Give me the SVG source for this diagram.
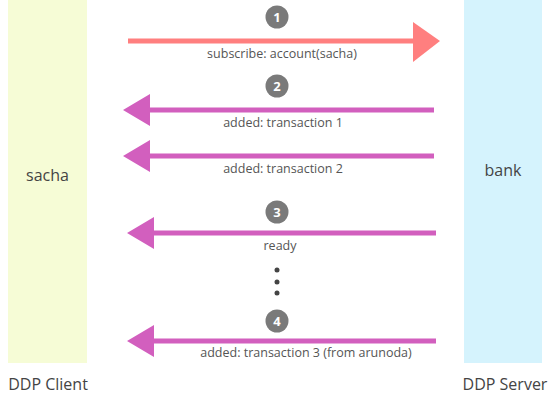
<svg xmlns="http://www.w3.org/2000/svg" width="550" height="401" viewBox="0 0 550 401">
<style>
.lbl{font-family:"Open Sans","Noto Sans",sans-serif;font-size:12.5px;fill:#555;text-anchor:middle}
.big{font-family:"Open Sans","Noto Sans",sans-serif;font-size:16px;fill:#444;text-anchor:middle}
.num{font-family:"Open Sans","Noto Sans",sans-serif;font-size:13px;font-weight:bold;fill:#fff;text-anchor:middle}
.badge{fill:#7a7a7a}
.red{stroke:#ff7f7f;stroke-width:5;fill:none}
.redh{fill:#ff7f7f}
.pur{stroke:#d25fbe;stroke-width:5;fill:none}
.purh{fill:#d25fbe}
</style>
<rect width="550" height="401" fill="#fff"/>
<g id="client">
<rect x="8" y="0" width="79" height="363" fill="#f6fcd6"/>
<text class="big" x="47.5" y="181">sacha</text>
<text class="big" x="48" y="390">DDP Client</text>
</g>
<g id="server">
<rect x="464" y="0" width="78" height="363" fill="#d5f3fd"/>
<text class="big" x="503" y="176">bank</text>
<text class="big" x="505" y="390">DDP Server</text>
</g>
<g id="connectors">
<line class="red" x1="128" y1="41" x2="415" y2="41"/>
<polygon class="redh" points="413,22 440,41 413,62"/>
<line class="pur" x1="148" y1="110" x2="434" y2="110"/>
<polygon class="purh" points="150,94 123,110 150,126"/>
<line class="pur" x1="148" y1="156" x2="434" y2="156"/>
<polygon class="purh" points="150,140 123,156 150,172"/>
<line class="pur" x1="152" y1="233" x2="436" y2="233"/>
<polygon class="purh" points="154,217 127,233 154,249"/>
<line class="pur" x1="152" y1="341" x2="436" y2="341"/>
<polygon class="purh" points="154,325 127,341 154,357"/>
</g>
<g id="labels">
<text class="lbl" x="282" y="58">subscribe: account(sacha)</text>
<text class="lbl" x="283" y="127">added: transaction 1</text>
<text class="lbl" x="283" y="173">added: transaction 2</text>
<text class="lbl" x="280" y="250">ready</text>
<text class="lbl" x="306" y="357">added: transaction 3 (from arunoda)</text>
</g>
<g id="badges">
<circle class="badge" cx="277" cy="17" r="11.5"/><text class="num" x="277" y="21.5">1</text>
<circle class="badge" cx="277" cy="86" r="11.5"/><text class="num" x="277" y="90.5">2</text>
<circle class="badge" cx="277" cy="212" r="11.5"/><text class="num" x="277" y="216.5">3</text>
<circle class="badge" cx="277" cy="321" r="11.5"/><text class="num" x="277" y="325.5">4</text>
</g>
<g id="dots" fill="#444">
<circle cx="277" cy="270" r="2.5"/>
<circle cx="277" cy="282" r="2.5"/>
<circle cx="277" cy="293" r="2.5"/>
</g>
</svg>
